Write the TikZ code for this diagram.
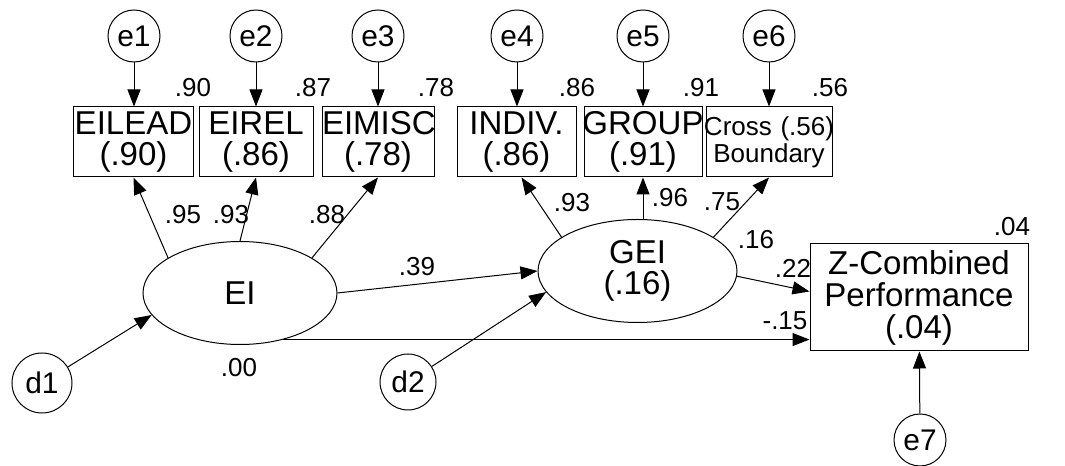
\documentclass[tikz,border=0pt]{standalone}
\usepackage{fontspec}
\setmainfont{Liberation Sans}
\usetikzlibrary{arrows.meta,shapes,calc}

\tikzset{
  err/.style={circle,draw,line width=0.2mm,inner sep=0,minimum size=10.4mm,font=\fontsize{17}{17}\selectfont},
  obs/.style={rectangle,draw,line width=0.2mm,inner sep=0,minimum height=14mm,align=center,font=\fontsize{18.8}{17.4}\selectfont},
  lat/.style={ellipse,draw,line width=0.2mm,inner sep=0,minimum width=38.8mm,minimum height=20.6mm,align=center,font=\fontsize{18.8}{17.8}\selectfont},
  coef/.style={inner sep=0,font=\fontsize{14.8}{14.8}\selectfont},
  arr/.style={-{Triangle[length=3.4mm,width=2.6mm]},line width=0.2mm},
}

\begin{document}
\begin{tikzpicture}[x=0.2mm,y=-0.2mm]
\useasboundingbox (0,0) rectangle (1065,466);

% EI indicators
\node[obs,text width=23.8mm] (lead) at (133.5,142) {EILEAD\\(.90)};
\node[obs,text width=22.8mm] (rel) at (256,142) {EIREL\\(.86)};
\node[obs,text width=22.4mm] (misc) at (378,142) {EIMISC\\(.78)};

% GEI indicators
\node[obs,text width=23.8mm] (indiv) at (516.5,142) {INDIV.\\(.86)};
\node[obs,text width=23.6mm] (group) at (643,142) {\makebox[\linewidth]{GROUP}\\(.91)};
\node[obs,text width=25.2mm,font=\fontsize{14.8}{15.2}\selectfont] (cross) at (769,142) {\makebox[\linewidth]{Cross (.56)}\\Boundary};

% Latent variables and outcome
\node[lat] (EI) at (240,293) {EI};
\node[lat,minimum width=39.8mm] (GEI) at (637.5,271) {GEI\\(.16)};
\node[obs,text width=43.6mm,minimum height=21.4mm,font=\fontsize{18.8}{18.2}\selectfont] (perf) at (919,297.5) {Z-Combined\\Performance\\(.04)};

% Error terms
\node[err] (e1) at (134,36) {e1};
\node[err] (e2) at (256,36) {e2};
\node[err] (e3) at (378,36) {e3};
\node[err] (e4) at (517,36) {e4};
\node[err] (e5) at (643,36) {e5};
\node[err] (e6) at (769,36) {e6};
\node[err] (e7) at (920,440) {e7};
\node[err,minimum size=12mm] (d1) at (42,383) {d1};
\node[err,minimum size=11.2mm] (d2) at (408,382) {d2};

\draw[arr] (e1) -- (e1 |- lead.north);
\draw[arr] (e2) -- (e2 |- rel.north);
\draw[arr] (e3) -- (e3 |- misc.north);
\draw[arr] (e4) -- (e4 |- indiv.north);
\draw[arr] (e5) -- (e5 |- group.north);
\draw[arr] (e6) -- (e6 |- cross.north);
\draw[arr] (e7) -- (perf);
\draw[arr] (d1) -- (EI.194);
\draw[arr] (d2) -- (GEI.193);

% Loadings
\draw[arr] (EI.154) -- (lead.south);
\draw[arr] (EI.north) -- (rel.south);
\draw[arr] (EI.26) -- (misc.south);
\draw[arr] (GEI.156) -- ($(indiv.south)+(5,0)$);
\draw[arr] (group.south |- GEI.north) -- (group.south);
\draw[arr] (GEI.24) -- (cross.south);

% Structural paths
\draw[arr] (EI.east) -- (GEI.west);
\draw[arr] (GEI.-3) -- ($(perf.west)+(0,-6)$);
\draw[arr] (EI.-47) -- (EI.-47 -| perf.west);

% Coefficients
\node[coef] (r1) at (193,88) {.90};
\node[coef] (r2) at (313,88) {.87};
\node[coef] (r3) at (436,88) {.78};
\node[coef] (r4) at (577,88) {.86};
\node[coef] (r5) at (701,88) {.91};
\node[coef] (r6) at (830,88) {.56};
\node[coef] (r7) at (1012,227) {.04};
\node[coef] (w1) at (183,215) {.95};
\node[coef] (w2) at (231,215) {.93};
\node[coef] (w3) at (327,215) {.88};
\node[coef] (w4) at (572,203) {.93};
\node[coef] (w5) at (670,198) {.96};
\node[coef] (w6) at (722,202) {.75};
\node[coef] (g1) at (756,240) {.16};
\node[coef] (p1) at (417,267) {.39};
\node[coef] (p2) at (793,268) {.22};
\node[coef] (p3) at (785,321) {-.15};
\node[coef] (c1) at (239,368) {.00};
\end{tikzpicture}
\end{document}
